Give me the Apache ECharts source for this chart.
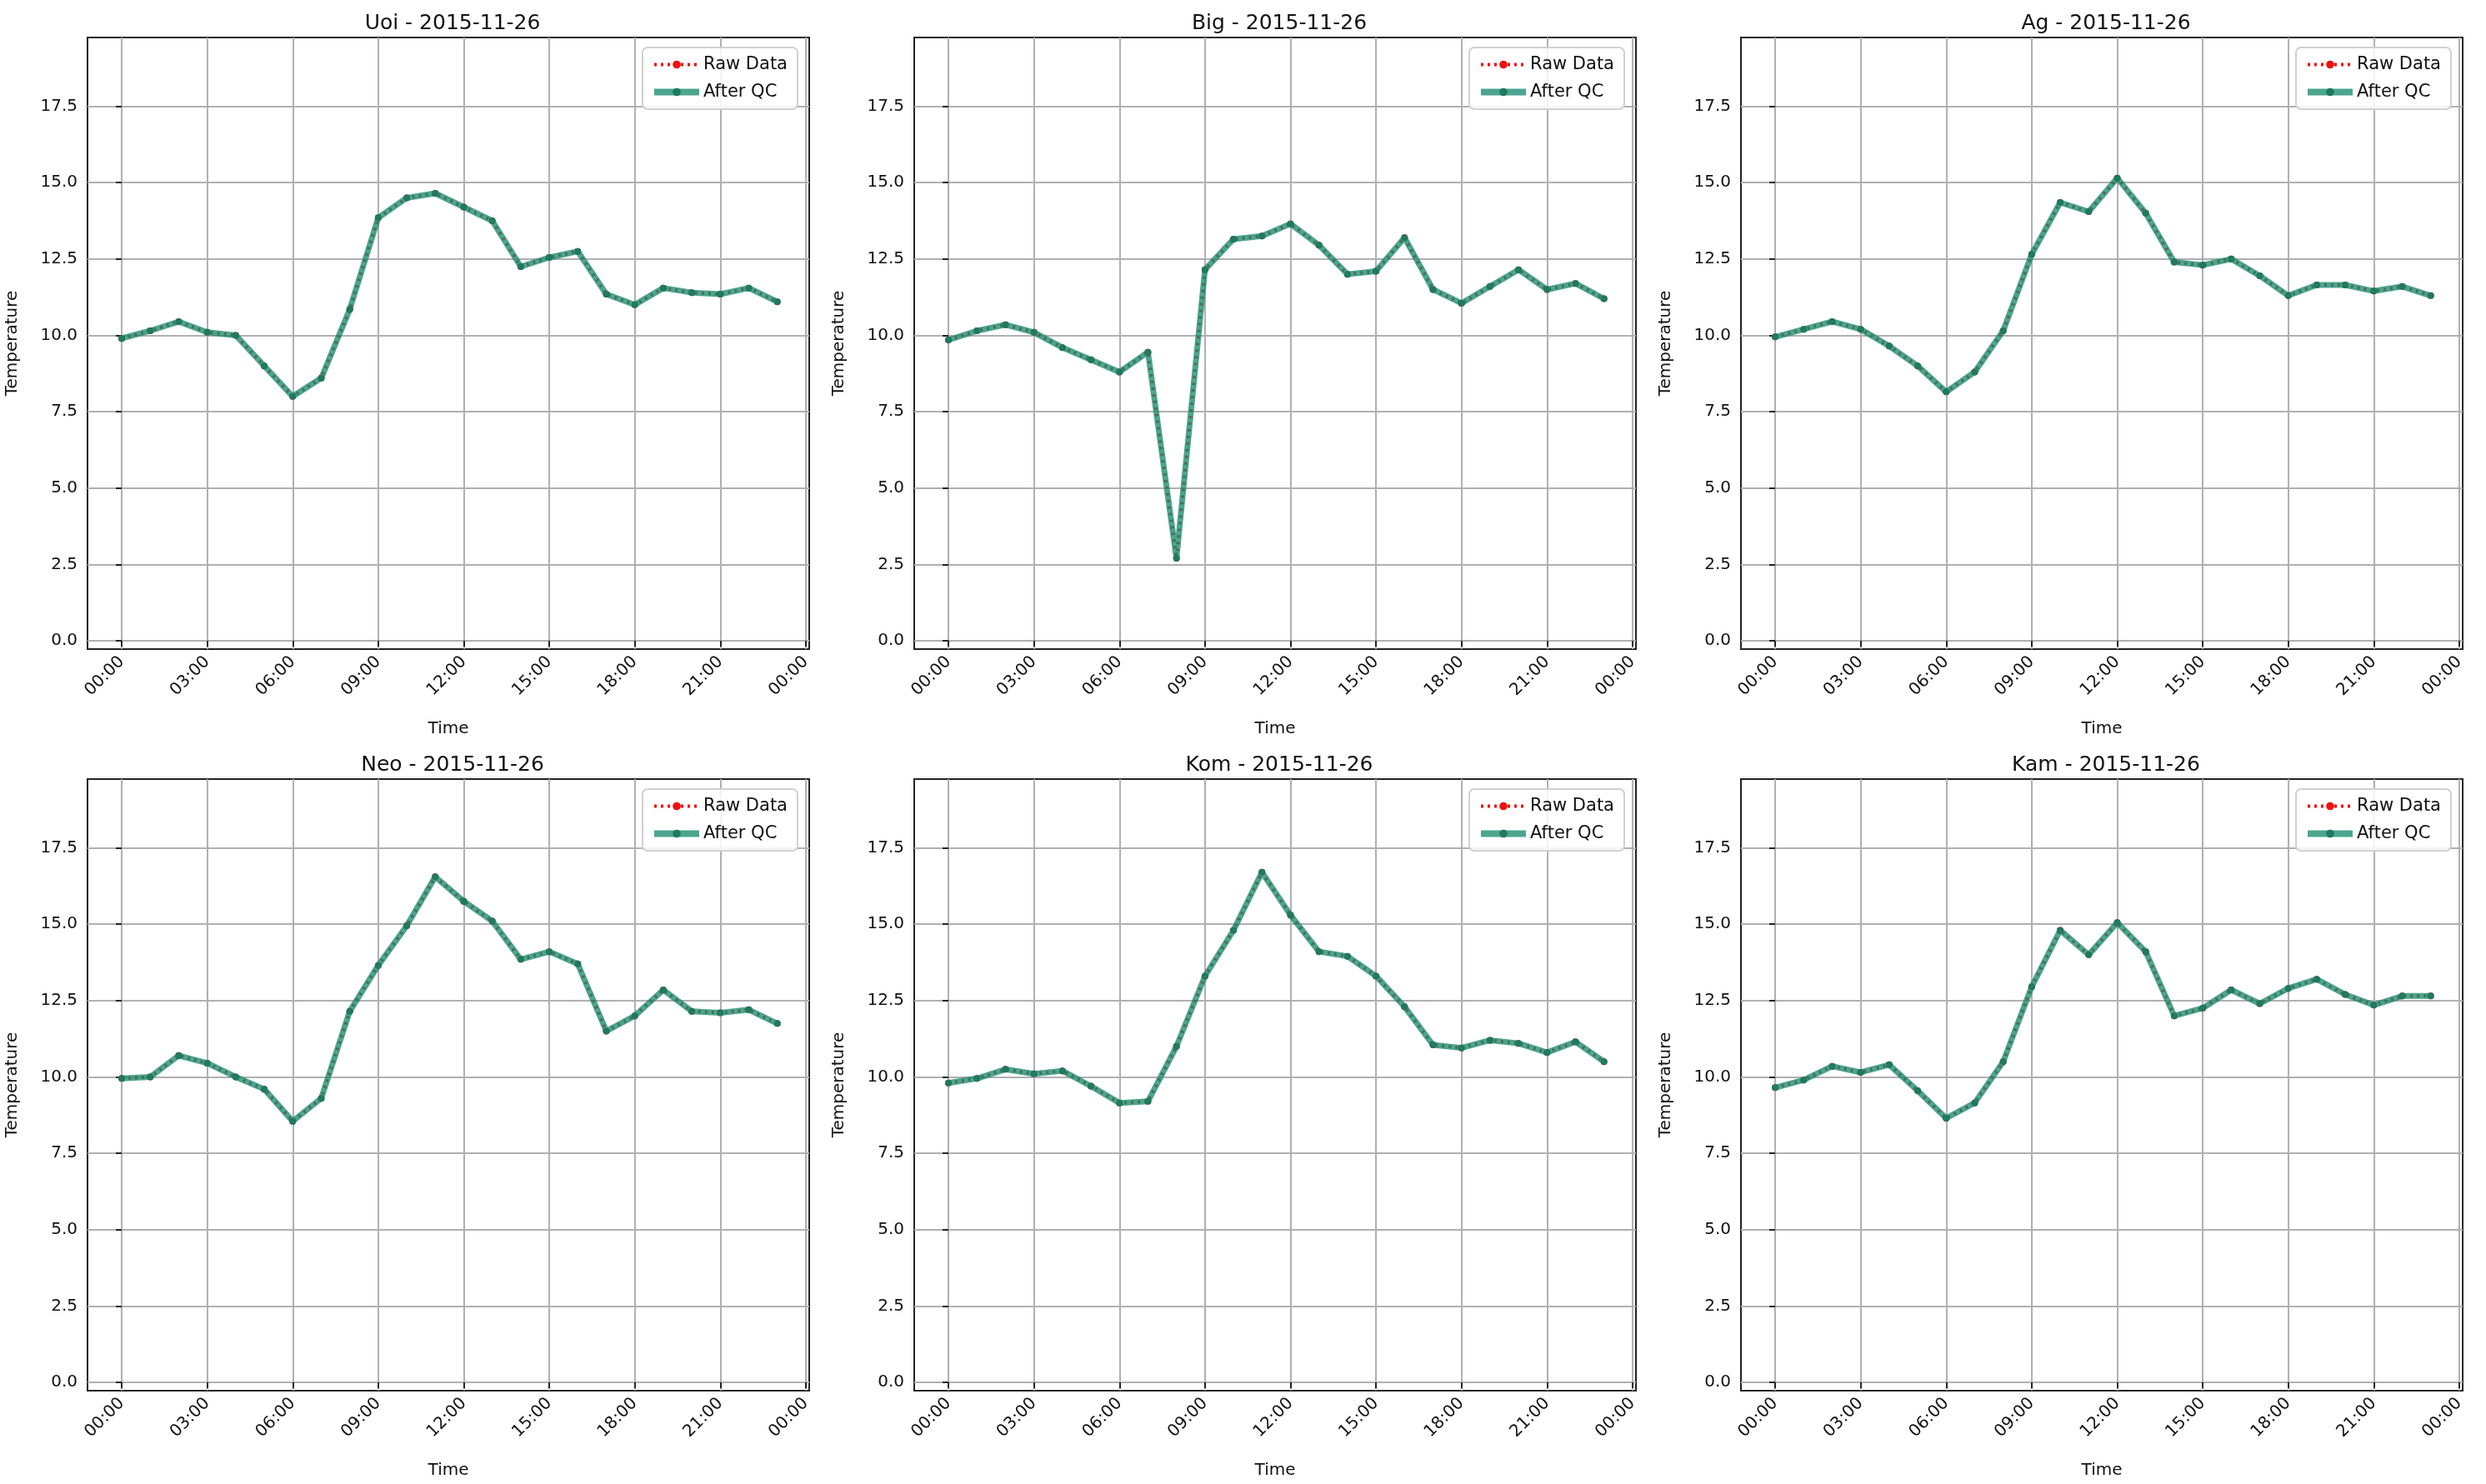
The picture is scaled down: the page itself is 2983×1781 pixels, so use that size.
<!DOCTYPE html>
<html><head><meta charset="utf-8">
<script src="https://cdn.jsdelivr.net/npm/echarts@6/dist/echarts.min.js"></script>
<style>html,body{margin:0;padding:0;background:#fff}#c{width:2983px;height:1781px}</style>
</head><body><div id="c"></div>
<script>
const hours = [0,1,2,3,4,5,6,7,8,9,10,11,12,13,14,15,16,17,18,19,20,21,22,23];
const xTicks = [0,3,6,9,12,15,18,21,24];
const yTicks = [0,2.5,5,7.5,10,12.5,15,17.5];
const stations = ['Uoi','Big','Ag','Neo','Kom','Kam'];
const dateLabel = '2015-11-26';
const uoi = [9.9,10.15,10.45,10.1,10.0,9.0,8.0,8.6,10.85,13.85,14.5,14.65,14.2,13.75,12.25,12.55,12.75,11.35,11.0,11.55,11.4,11.35,11.55,11.1];
const big = [9.85,10.15,10.35,10.1,9.6,9.2,8.8,9.45,2.7,12.15,13.15,13.25,13.65,12.95,12.0,12.1,13.2,11.5,11.05,11.6,12.15,11.5,11.7,11.2];
const ag  = [9.95,10.2,10.45,10.2,9.65,9.0,8.15,8.8,10.15,12.65,14.35,14.05,15.15,14.0,12.4,12.3,12.5,11.95,11.3,11.65,11.65,11.45,11.6,11.3];
const neo = [9.95,10.0,10.7,10.45,10.0,9.6,8.55,9.3,12.15,13.65,14.95,16.55,15.75,15.1,13.85,14.1,13.7,11.5,12.0,12.85,12.15,12.1,12.2,11.75];
const kom = [9.8,9.95,10.25,10.1,10.2,9.7,9.15,9.2,11.0,13.3,14.8,16.7,15.3,14.1,13.95,13.3,12.3,11.05,10.95,11.2,11.1,10.8,11.15,10.5];
const kam = [9.65,9.9,10.35,10.15,10.4,9.55,8.65,9.15,10.5,12.95,14.8,14.0,15.05,14.1,12.0,12.25,12.85,12.4,12.9,13.2,12.7,12.35,12.65,12.65];
const rawData = [uoi,big,ag,neo,kom,kam];
const qcData  = [uoi,big,ag,neo,kom,kam];

const lefts=[105,1097,2089], tops=[45,935], W=866, H=734;
const font='DejaVu Sans';
const grid=[],xAxis=[],yAxis=[],series=[],title=[],legend=[];
const fmt = v => { const h=((v%24)+24)%24; return (h<10?'0':'')+h+':00'; };
stations.forEach((s,i)=>{
  const L=lefts[i%3], T=tops[Math.floor(i/3)];
  grid.push({left:L,top:T,width:W,height:H,show:true,borderColor:'#222',borderWidth:2,backgroundColor:'transparent'});
  title.push({text:s+' - '+dateLabel,left:L+W/2,top:T-34,textAlign:'center',textStyle:{fontFamily:font,fontSize:25,fontWeight:'normal',color:'#111'}});
  xAxis.push({type:'value',gridIndex:i,min:-1.2,max:24.12,
    name:'Time',nameLocation:'middle',nameGap:86,nameTextStyle:{fontFamily:font,fontSize:20,color:'#111'},
    axisLine:{show:false},
    axisTick:{show:true,inside:false,customValues:xTicks,length:7,lineStyle:{color:'#222',width:2}},
    axisLabel:{customValues:xTicks,formatter:fmt,rotate:45,fontFamily:font,fontSize:20,color:'#111',margin:12},
    splitLine:{show:true,lineStyle:{color:'#b0b0b0',width:2}}});
  yAxis.push({type:'value',gridIndex:i,min:-0.27,max:19.75,
    name:'Temperature',nameLocation:'middle',nameGap:80,nameTextStyle:{fontFamily:font,fontSize:20,color:'#111'},
    axisLine:{show:false},
    axisTick:{show:true,inside:false,customValues:yTicks,length:7,lineStyle:{color:'#222',width:2}},
    axisLabel:{customValues:yTicks,formatter:v=>v.toFixed(1),fontFamily:font,fontSize:20,color:'#111',margin:12},
    splitLine:{show:true,lineStyle:{color:'#b0b0b0',width:2}}});
  series.push({name:'Raw Data',type:'line',xAxisIndex:i,yAxisIndex:i,data:hours.map((h,k)=>[h,rawData[i][k]]),
    symbol:'circle',symbolSize:8,itemStyle:{color:'#ee1111'},lineStyle:{color:'#ee1111',width:4,type:[3,5]},z:2,animation:false});
  series.push({name:'After QC',type:'line',xAxisIndex:i,yAxisIndex:i,data:hours.map((h,k)=>[h,qcData[i][k]]),
    symbol:'circle',symbolSize:8,itemStyle:{color:'#1f7a5e',opacity:1},lineStyle:{color:'rgba(26,140,110,0.78)',width:7},z:3,animation:false});
  legend.push({left:L+W-12-188,top:T+12,orient:'vertical',itemWidth:54,itemHeight:12,itemGap:12,
    padding:[10,12,10,10],backgroundColor:'rgba(255,255,255,0.85)',borderColor:'#d0d0d0',borderWidth:2,borderRadius:6,
    textStyle:{fontFamily:font,fontSize:21,color:'#111'},
    data:[{name:'Raw Data',lineStyle:{width:4,type:[3,5],color:'#ee1111'}},
          {name:'After QC',lineStyle:{width:8,color:'rgba(26,140,110,0.78)'},itemStyle:{color:'#1f7a5e'}}]});
});
const chart=echarts.init(document.getElementById('c'));
chart.setOption({animation:false,backgroundColor:'#fff',title,legend,grid,xAxis,yAxis,series});
</script></body></html>
